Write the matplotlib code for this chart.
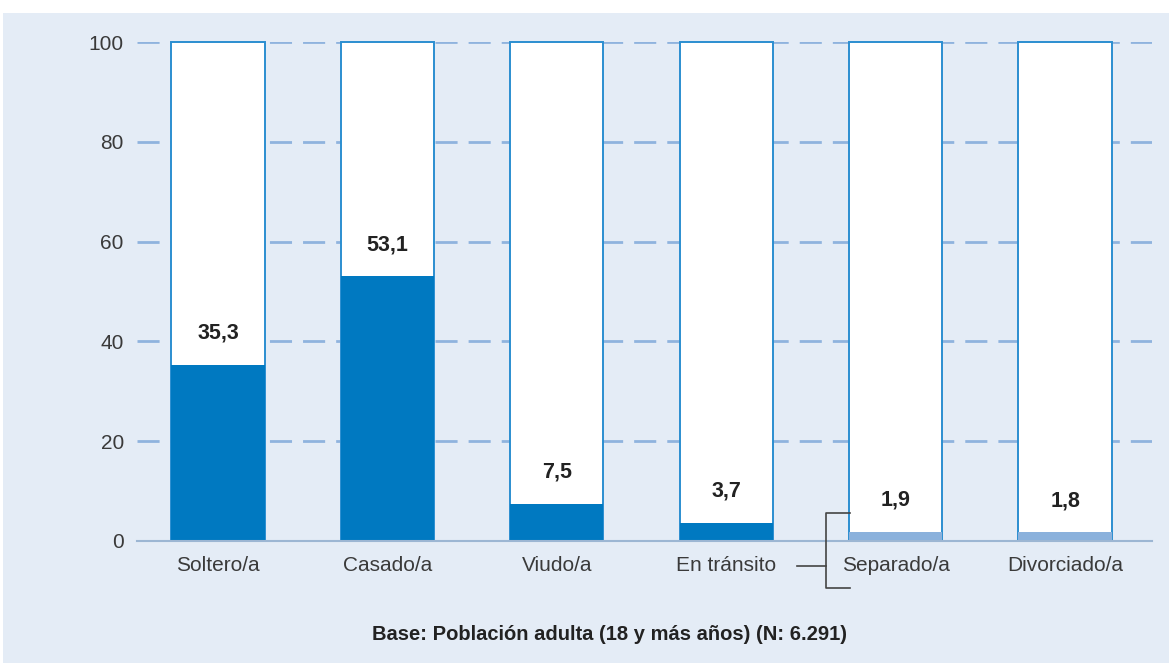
import matplotlib

matplotlib.use("Agg")

import matplotlib.pyplot as plt
from matplotlib.patches import Rectangle

# datos
categorias = ["Soltero/a", "Casado/a", "Viudo/a", "En tránsito", "Separado/a", "Divorciado/a"]
valores = [35.3, 53.1, 7.5, 3.7, 1.9, 1.8]
etiquetas = ["35,3", "53,1", "7,5", "3,7", "1,9", "1,8"]
colores = ["#0079c1", "#0079c1", "#0079c1", "#0079c1", "#8ab1dc", "#8ab1dc"]
yticks = [0, 20, 40, 60, 80, 100]
nota = "Base: Población adulta (18 y más años) (N: 6.291)"

plt.rcParams["font.family"] = ["Liberation Sans", "DejaVu Sans"]

fig = plt.figure(figsize=(11.69, 6.63), dpi=100)
fig.patches.append(
    Rectangle((3 / 1169, 0), 1, 650 / 663, transform=fig.transFigure,
              facecolor="#e4ecf6", edgecolor="none", zorder=0)
)
ax = fig.add_axes([137 / 1169, 1 - 541 / 663, 1015 / 1169, 499 / 663])
ax.set_zorder(2)
ax.set_facecolor("none")

x = list(range(len(categorias)))
ancho = 0.55

# contorno hasta 100 y barra con el valor
ax.bar(x, [100] * len(x), width=ancho, color="white", edgecolor="#2b8ed0",
       linewidth=1.4, zorder=2, clip_on=False)
ax.bar(x, valores, width=ancho, color=colores, edgecolor="none", zorder=3)

for xi, v, t in zip(x, valores, etiquetas):
    ax.text(xi, v + 6.3, t, ha="center", va="center", fontsize=15.5,
            fontweight="bold", color="#222222", zorder=4)

ax.set_xlim(-0.478, 5.513)
ax.set_ylim(0, 100)
ax.set_yticks(yticks)
ax.set_xticks(x)
ax.set_xticklabels(categorias)
ax.tick_params(axis="both", length=0, labelsize=15, colors="#3a3a3a")
ax.tick_params(axis="x", pad=11)
ax.tick_params(axis="y", pad=9.5)
ax.yaxis.grid(True, color="#8fb3de", linewidth=2, linestyle=(0, (7.95, 3.97)), zorder=1)
ax.set_axisbelow(True)
for s in ["top", "right", "left"]:
    ax.spines[s].set_visible(False)
ax.spines["bottom"].set_color("#9cb6d3")
ax.spines["bottom"].set_linewidth(1.5)
ax.spines["bottom"].set_zorder(4)

# llave que agrupa separado/a y divorciado/a
bx, bx2, bx0 = 3.59, 3.73, 3.42
kw = dict(color="#444444", linewidth=1.2, clip_on=False, zorder=5)
ax.plot([bx2, bx, bx, bx2], [5.6, 5.6, -9.4, -9.4], **kw)
ax.plot([bx0, bx], [-5.0, -5.0], **kw)

fig.text(609 / 1169, 1 - 635 / 663, nota, ha="center", va="center",
         fontsize=14.5, fontweight="bold", color="#222222")

fig.savefig("out.png", dpi=100)
